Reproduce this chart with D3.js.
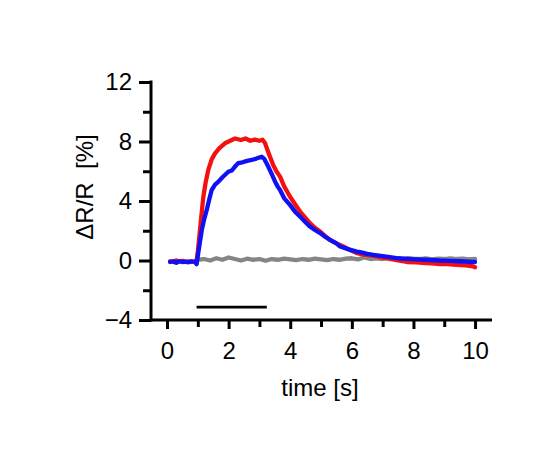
<!DOCTYPE html>
<html>
<head>
<meta charset="utf-8">
<script src="https://cdn.jsdelivr.net/npm/d3@7"></script>
<style>
  html, body { margin: 0; padding: 0; background: #fff; }
  svg { display: block; }
  text { font-family: "Liberation Sans", Arial, sans-serif; fill: #000; }
</style>
</head>
<body>
<svg id="chart" width="551" height="452"></svg>
<script>
// ---- data ----
const redT = [0.10,0.20,0.30,0.40,0.50,0.60,0.70,0.80,0.90,0.95,1.00,1.07,1.13,1.18,1.25,1.34,1.45,1.56,1.70,1.88,2.05,2.21,2.40,2.55,2.70,2.85,3.00,3.10,3.18,3.30,3.45,3.55,3.67,3.80,3.99,4.15,4.32,4.48,4.64,4.80,4.97,5.13,5.29,5.50,5.72,5.95,6.16,6.40,6.70,7.00,7.24,7.50,7.79,8.10,8.40,8.60,8.86,9.10,9.40,9.70,9.94,10.00];
const redV = [-0.05,-0.10,0.00,-0.08,-0.02,-0.10,-0.05,-0.10,-0.05,-0.15,0.60,2.06,3.30,4.30,5.20,6.09,6.80,7.20,7.55,7.88,8.05,8.20,8.10,8.20,8.05,8.12,8.05,8.12,7.90,7.20,6.40,6.00,5.64,5.00,4.30,3.80,3.29,2.90,2.51,2.20,1.95,1.65,1.39,1.15,0.94,0.70,0.50,0.40,0.32,0.20,0.10,0.00,-0.10,-0.12,-0.18,-0.20,-0.24,-0.25,-0.30,-0.33,-0.40,-0.45];

const blueT = [0.10,0.20,0.30,0.40,0.50,0.60,0.70,0.80,0.90,0.96,1.05,1.13,1.21,1.29,1.37,1.45,1.56,1.67,1.80,1.99,2.10,2.20,2.31,2.45,2.60,2.75,2.90,3.07,3.15,3.29,3.40,3.51,3.60,3.67,3.80,3.99,4.15,4.32,4.48,4.64,4.80,4.97,5.13,5.29,5.50,5.62,5.90,6.16,6.27,6.50,6.70,7.00,7.24,7.50,7.79,8.10,8.40,8.86,9.20,9.50,9.94,10.00];
const blueV = [-0.10,-0.05,-0.15,-0.05,-0.10,-0.08,-0.12,-0.05,-0.10,-0.25,1.00,2.06,2.80,3.40,4.10,4.74,5.10,5.30,5.60,5.97,6.05,6.30,6.54,6.60,6.70,6.76,6.85,6.98,6.85,6.30,5.80,5.30,4.95,4.74,4.20,3.74,3.30,2.95,2.60,2.28,2.05,1.84,1.60,1.39,1.15,0.94,0.75,0.60,0.56,0.45,0.38,0.30,0.23,0.15,0.11,0.08,0.05,0.00,-0.02,-0.05,-0.10,-0.10];

const grayT = [1.00,1.20,1.40,1.60,1.80,2.00,2.20,2.40,2.60,2.80,3.00,3.20,3.40,3.60,3.80,4.00,4.20,4.40,4.60,4.80,5.00,5.20,5.40,5.60,5.80,6.00,6.20,6.40,6.60,6.80,7.00,7.20,7.40,7.60,7.80,8.00,8.20,8.40,8.60,8.80,9.00,9.20,9.40,9.60,9.80,10.00];
const grayV = [0.05,0.10,0.00,0.15,0.05,0.20,0.10,0.00,0.12,0.05,0.10,-0.02,0.10,0.05,0.12,0.08,0.02,0.10,0.05,0.12,0.08,0.02,0.10,0.05,0.12,0.15,0.08,0.20,0.10,0.15,0.10,0.18,0.12,0.10,0.15,0.12,0.10,0.15,0.08,0.12,0.10,0.15,0.10,0.12,0.08,0.10];

const stimBar = [0.96, 3.24];
const stimLevel = -3.13;

const xMajorTicks = [0, 2, 4, 6, 8, 10];
const xMinorTicks = [1, 3, 5, 7, 9];
const yMajorTicks = [-4, 0, 4, 8, 12];
const yMinorTicks = [-2, 2, 6, 10];

const xLabel = "time [s]";
const yLabel = "\u0394R/R  [%]";

// ---- drawing ----
const svg = d3.select("#chart");
const x = d3.scaleLinear().domain([-0.52, 10.55]).range([151, 492]);
const y = d3.scaleLinear().domain([-4, 12]).range([320, 82]);

const zipped = (T, V) => T.map((t, i) => [t, V[i]]);
const line = d3.line().x(d => x(d[0])).y(d => y(d[1])).curve(d3.curveLinear);

function drawSeries(data, color) {
  svg.append("path")
    .datum(data)
    .attr("d", line)
    .attr("fill", "none")
    .attr("stroke", color)
    .attr("stroke-width", 4.3)
    .attr("stroke-linejoin", "round")
    .attr("stroke-linecap", "round");
}
drawSeries(zipped(grayT, grayV), "#858585");
drawSeries(zipped(redT, redV), "#f51010");
drawSeries(zipped(blueT, blueV), "#1010f5");

// stimulus bar
svg.append("line")
  .attr("x1", x(stimBar[0])).attr("x2", x(stimBar[1]))
  .attr("y1", y(stimLevel)).attr("y2", y(stimLevel))
  .attr("stroke", "#000").attr("stroke-width", 2.8);

// axes
const fontSize = 24;
function styleAxis(g) {
  g.selectAll(".domain").remove();
  g.selectAll("line").attr("stroke", "#000").attr("stroke-width", 3);
  g.selectAll("text").style("font-size", fontSize + "px")
    .style("font-family", "'Liberation Sans', Arial, sans-serif");
}

const xMajor = svg.append("g").attr("transform", "translate(0,320)")
  .call(d3.axisBottom(x).tickValues(xMajorTicks).tickSize(9).tickPadding(13).tickFormat(d3.format("d")));
styleAxis(xMajor);
const xMinor = svg.append("g").attr("transform", "translate(0,320)")
  .call(d3.axisBottom(x).tickValues(xMinorTicks).tickSize(7).tickFormat(""));
styleAxis(xMinor);

const yMajor = svg.append("g").attr("transform", "translate(151,0)")
  .call(d3.axisLeft(y).tickValues(yMajorTicks).tickSize(12).tickPadding(7).tickFormat(d3.format("d")));
styleAxis(yMajor);
const yMinor = svg.append("g").attr("transform", "translate(151,0)")
  .call(d3.axisLeft(y).tickValues(yMinorTicks).tickSize(8).tickFormat(""));
styleAxis(yMinor);

// axis lines
svg.append("line").attr("x1", 151).attr("x2", 151).attr("y1", y(12) - 1.5).attr("y2", 321.5)
  .attr("stroke", "#000").attr("stroke-width", 3);
svg.append("line").attr("x1", 151).attr("x2", 492).attr("y1", 320).attr("y2", 320)
  .attr("stroke", "#000").attr("stroke-width", 3);

// axis titles
svg.append("text")
  .attr("x", 320).attr("y", 396)
  .attr("text-anchor", "middle")
  .style("font-size", fontSize + "px")
  .text(xLabel);

svg.append("text")
  .attr("transform", "translate(93,187) rotate(-90)")
  .attr("text-anchor", "middle")
  .style("font-size", fontSize + "px")
  .style("white-space", "pre")
  .text(yLabel);
</script>
</body>
</html>
